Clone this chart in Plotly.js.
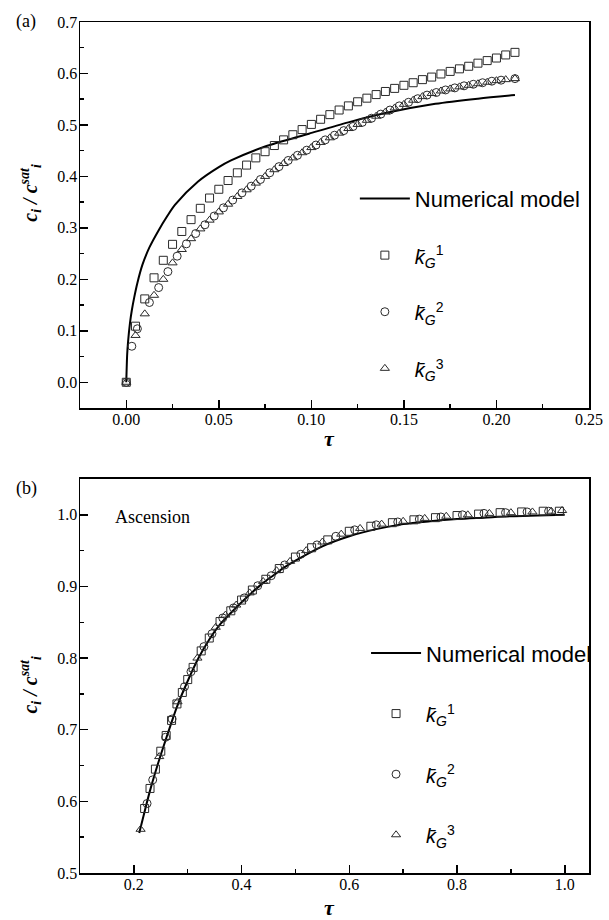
<!DOCTYPE html>
<html>
<head>
<meta charset="utf-8">
<script src="https://cdn.plot.ly/plotly-3.0.1.min.js"></script>
<style>html,body{margin:0;padding:0;background:#fff;}#chart{width:609px;height:920px;}</style>
</head>
<body>
<div id="chart"></div>
<script>
// ---------- Panel (a) data ----------
const tauModelA = [0, 0.0005, 0.001, 0.002, 0.003, 0.0043, 0.006, 0.0087, 0.0125, 0.0176, 0.022, 0.0264, 0.0388, 0.05, 0.0566, 0.075, 0.0987, 0.12, 0.14, 0.167, 0.19, 0.21];
const cModelA   = [0, 0.055, 0.08, 0.115, 0.14, 0.165, 0.193, 0.228, 0.262, 0.296, 0.322, 0.345, 0.39, 0.418, 0.431, 0.458, 0.483, 0.505, 0.523, 0.541, 0.551, 0.558];

const tauK1A = [0, 0.005, 0.01, 0.015, 0.02, 0.025, 0.03, 0.035, 0.04, 0.045, 0.05, 0.055, 0.06, 0.065, 0.07, 0.075, 0.08, 0.085, 0.09, 0.095, 0.10, 0.105, 0.11, 0.115, 0.12, 0.125, 0.13, 0.135, 0.14, 0.145, 0.15, 0.155, 0.16, 0.165, 0.17, 0.175, 0.18, 0.185, 0.19, 0.195, 0.20, 0.205, 0.21];
const cK1A   = [0, 0.109, 0.162, 0.203, 0.237, 0.268, 0.293, 0.316, 0.338, 0.358, 0.375, 0.392, 0.407, 0.422, 0.436, 0.448, 0.460, 0.471, 0.481, 0.491, 0.501, 0.511, 0.520, 0.529, 0.537, 0.545, 0.552, 0.559, 0.565, 0.571, 0.577, 0.582, 0.588, 0.593, 0.599, 0.604, 0.609, 0.614, 0.620, 0.625, 0.630, 0.636, 0.641];

const tauK2A = [0, 0.003, 0.006, 0.0125, 0.0175, 0.0225, 0.0275, 0.0325, 0.0375, 0.0425, 0.0475, 0.0525, 0.0575, 0.0625, 0.0675, 0.0725, 0.0775, 0.0825, 0.0875, 0.0925, 0.0975, 0.1025, 0.1075, 0.1125, 0.1175, 0.1225, 0.1275, 0.1325, 0.1375, 0.1425, 0.1475, 0.1525, 0.1575, 0.1625, 0.1675, 0.1725, 0.1775, 0.1825, 0.1875, 0.1925, 0.1975, 0.2025, 0.21];
const cK2A   = [0, 0.070, 0.104, 0.155, 0.184, 0.215, 0.245, 0.269, 0.289, 0.306, 0.323, 0.339, 0.354, 0.368, 0.381, 0.394, 0.407, 0.419, 0.431, 0.441, 0.451, 0.461, 0.471, 0.480, 0.489, 0.497, 0.505, 0.513, 0.521, 0.529, 0.537, 0.544, 0.551, 0.558, 0.563, 0.568, 0.572, 0.576, 0.579, 0.582, 0.585, 0.587, 0.590];

const tauK3A = [0, 0.005, 0.01, 0.015, 0.02, 0.025, 0.03, 0.035, 0.04, 0.045, 0.05, 0.055, 0.06, 0.065, 0.07, 0.075, 0.08, 0.085, 0.09, 0.095, 0.10, 0.105, 0.11, 0.115, 0.12, 0.125, 0.13, 0.135, 0.14, 0.145, 0.15, 0.155, 0.16, 0.165, 0.17, 0.175, 0.18, 0.185, 0.19, 0.195, 0.20, 0.205, 0.21];
const cK3A   = [0, 0.091, 0.133, 0.169, 0.200, 0.232, 0.258, 0.279, 0.298, 0.315, 0.331, 0.346, 0.361, 0.374, 0.387, 0.400, 0.413, 0.425, 0.436, 0.446, 0.456, 0.466, 0.475, 0.484, 0.493, 0.501, 0.509, 0.517, 0.525, 0.533, 0.540, 0.548, 0.555, 0.561, 0.566, 0.570, 0.574, 0.577, 0.580, 0.583, 0.586, 0.588, 0.590];

// ---------- Panel (b) data ----------
const tauModelB = [0.21, 0.22, 0.23, 0.24, 0.25, 0.26, 0.28, 0.30, 0.32, 0.34, 0.36, 0.38, 0.40, 0.42, 0.44, 0.46, 0.48, 0.50, 0.55, 0.60, 0.65, 0.70, 0.75, 0.80, 0.85, 0.90, 0.95, 1.0];
const cModelB   = [0.556, 0.586, 0.615, 0.641, 0.665, 0.688, 0.732, 0.768, 0.800, 0.826, 0.847, 0.863, 0.878, 0.892, 0.905, 0.916, 0.927, 0.936, 0.956, 0.970, 0.980, 0.987, 0.991, 0.994, 0.996, 0.998, 0.999, 1.0];

const tauK1B = [0.22, 0.23, 0.24, 0.25, 0.26, 0.27, 0.28, 0.29, 0.30, 0.31, 0.325, 0.34, 0.36, 0.38, 0.40, 0.42, 0.445, 0.47, 0.50, 0.53, 0.56, 0.60, 0.64, 0.68, 0.72, 0.76, 0.80, 0.84, 0.88, 0.92, 0.96, 0.99];
const cK1B   = [0.590, 0.618, 0.645, 0.670, 0.692, 0.713, 0.736, 0.752, 0.770, 0.787, 0.810, 0.828, 0.851, 0.866, 0.881, 0.895, 0.910, 0.925, 0.941, 0.954, 0.965, 0.977, 0.984, 0.989, 0.993, 0.996, 0.999, 1.001, 1.003, 1.004, 1.005, 1.005];

const tauK2B = [0.2245, 0.235, 0.259, 0.271, 0.294, 0.306, 0.33, 0.345, 0.365, 0.385, 0.405, 0.43, 0.455, 0.48, 0.51, 0.54, 0.575, 0.61, 0.65, 0.69, 0.73, 0.77, 0.81, 0.85, 0.89, 0.93, 0.97];
const cK2B   = [0.597, 0.630, 0.6895, 0.715, 0.760, 0.781, 0.816, 0.834, 0.856, 0.870, 0.884, 0.901, 0.915, 0.930, 0.945, 0.958, 0.970, 0.979, 0.986, 0.990, 0.994, 0.997, 1.000, 1.002, 1.003, 1.004, 1.005];

const tauK3B = [0.2125, 0.247, 0.281, 0.318, 0.352, 0.37, 0.39, 0.415, 0.44, 0.465, 0.49, 0.52, 0.55, 0.585, 0.62, 0.66, 0.70, 0.74, 0.78, 0.82, 0.86, 0.90, 0.94, 0.975, 0.995];
const cK3B   = [0.561, 0.6625, 0.739, 0.800, 0.843, 0.860, 0.874, 0.891, 0.907, 0.922, 0.935, 0.950, 0.962, 0.973, 0.981, 0.987, 0.991, 0.995, 0.998, 1.000, 1.002, 1.003, 1.004, 1.005, 1.006];

// ---------- Labels ----------
const kLabel = (n) => '<span style="font-size:20px"><i>k\u0304</i><sub><i>G</i></sub><sup>' + n + '</sup></span>';
const seriesNames = ['Numerical model', kLabel(1), kLabel(2), kLabel(3)];
const yTitle = '<b><i>c<sub>i</sub> / c<sup>sat</sup><sub>i</sub></i></b>';
const xTitle = '<b><i>τ</i></b>';

// ---------- Build traces ----------
const mk = (sym) => ({symbol: sym, size: 8, color: '#2a2a2a', line: {width: 1}});
const lineStyle = {color: 'black', width: 2, shape: 'spline', smoothing: 0.8};

function panel(tM, cM, t1, c1, t2, c2, t3, c3, xa, ya, lg) {
  return [
    {x: tM, y: cM, mode: 'lines', line: lineStyle, name: seriesNames[0], xaxis: xa, yaxis: ya, legend: lg, legendgroup: lg + 'm'},
    {x: t1, y: c1, mode: 'markers', marker: mk('square-open'), name: seriesNames[1], xaxis: xa, yaxis: ya, legend: lg, legendgroup: lg + '1'},
    {x: t2, y: c2, mode: 'markers', marker: mk('circle-open'), name: seriesNames[2], xaxis: xa, yaxis: ya, legend: lg, legendgroup: lg + '2'},
    {x: t3, y: c3, mode: 'markers', marker: mk('triangle-up-open'), name: seriesNames[3], xaxis: xa, yaxis: ya, legend: lg, legendgroup: lg + '3'}
  ];
}

const data = [].concat(
  panel(tauModelA, cModelA, tauK1A, cK1A, tauK2A, cK2A, tauK3A, cK3A, 'x', 'y', 'legend'),
  panel(tauModelB, cModelB, tauK1B, cK1B, tauK2B, cK2B, tauK3B, cK3B, 'x2', 'y2', 'legend2')
);

const SERIF = 'Liberation Serif';
const SANS = 'Liberation Sans';
function xBase() {
  return {
    showline: true, linewidth: 1.5, linecolor: 'black', mirror: true,
    ticks: 'inside', ticklen: 8, tickwidth: 1.5, tickcolor: 'black',
    showgrid: false, zeroline: false, ticklabelstandoff: -4,
    tickfont: {family: SERIF, size: 16, color: 'black'}
  };
}
function yBase() { const o = xBase(); o.ticklabelstandoff = -2; return o; }
const minorTicks = (d) => ({dtick: d, ticks: 'inside', ticklen: 4, tickwidth: 1.5, tickcolor: 'black'});

function legendBase() {
  return {
    xanchor: 'left', yanchor: 'top', bgcolor: 'rgba(0,0,0,0)', borderwidth: 0,
    font: {family: SANS, size: 22, color: 'black'},
    traceorder: 'grouped', itemwidth: 50
  };
}

const layout = {
  width: 609, height: 920,
  font: {family: SERIF, size: 16, color: 'black'},
  margin: {l: 80, r: 12, t: 22, b: 47},
  paper_bgcolor: 'white', plot_bgcolor: 'white',
  showlegend: true,
  xaxis: Object.assign(xBase(), {domain: [0, 1], anchor: 'y', range: [-0.025, 0.25], tick0: 0, dtick: 0.05, tickformat: '.2f', minor: minorTicks(0.025)}),
  yaxis: Object.assign(yBase(), {domain: [0.5464, 1], anchor: 'x', range: [-0.05, 0.7], tick0: 0, dtick: 0.1, tickformat: '.1f', minor: minorTicks(0.05)}),
  xaxis2: Object.assign(xBase(), {domain: [0, 1], anchor: 'y2', range: [0.1, 1.045], tick0: 0, dtick: 0.2, tickformat: '.1f', minor: minorTicks(0.1)}),
  yaxis2: Object.assign(yBase(), {domain: [0, 0.463], anchor: 'x2', range: [0.5, 1.05], tick0: 0, dtick: 0.1, tickformat: '.1f', minor: minorTicks(0.05)}),
  legend: Object.assign(legendBase(), {x: 0.54, y: 0.817, tracegroupgap: 25}),
  legend2: Object.assign(legendBase(), {x: 0.562, y: 0.283, tracegroupgap: 29}),
  annotations: [
    {text: '(a)', xref: 'paper', yref: 'paper', x: -0.106, y: 1.001, xanchor: 'center', yanchor: 'middle', showarrow: false,
     font: {family: SERIF, size: 18, color: 'black'}},
    {text: '(b)', xref: 'paper', yref: 'paper', x: -0.106, y: 0.452, xanchor: 'center', yanchor: 'middle', showarrow: false,
     font: {family: SERIF, size: 18, color: 'black'}},
    {text: 'Ascension', xref: 'paper', yref: 'paper', x: 0.064, y: 0.418, xanchor: 'left', yanchor: 'middle', showarrow: false,
     font: {family: SERIF, size: 18, color: 'black'}},
    {text: xTitle, xref: 'paper', yref: 'paper', x: 0.49, y: 0.511, xanchor: 'center', yanchor: 'middle', showarrow: false,
     font: {family: SERIF, size: 22, color: 'black'}},
    {text: xTitle, xref: 'paper', yref: 'paper', x: 0.49, y: -0.04, xanchor: 'center', yanchor: 'middle', showarrow: false,
     font: {family: SERIF, size: 22, color: 'black'}},
    {text: yTitle, xref: 'paper', yref: 'paper', x: -0.097, y: 0.799, xanchor: 'center', yanchor: 'middle', textangle: -90, showarrow: false,
     font: {family: SERIF, size: 20, color: 'black'}},
    {text: yTitle, xref: 'paper', yref: 'paper', x: -0.097, y: 0.221, xanchor: 'center', yanchor: 'middle', textangle: -90, showarrow: false,
     font: {family: SERIF, size: 20, color: 'black'}}
  ]
};

Plotly.newPlot('chart', data, layout, {staticPlot: true, displayModeBar: false});
</script>
</body>
</html>
